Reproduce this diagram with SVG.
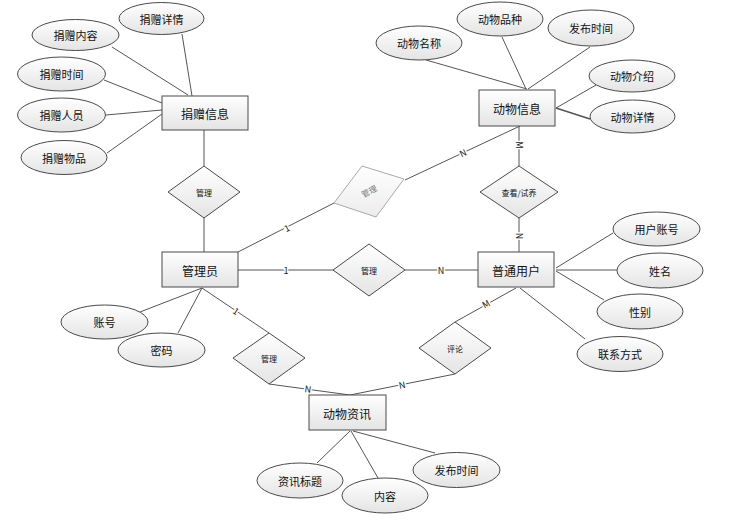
<svg xmlns="http://www.w3.org/2000/svg" width="755" height="522" viewBox="0 0 755 522">
<defs>
<linearGradient id="g" x1="0" y1="0" x2="0" y2="1">
<stop offset="0" stop-color="#ffffff"/>
<stop offset="1" stop-color="#e4e4e4"/>
</linearGradient>
<linearGradient id="g2" x1="0" y1="0" x2="0" y2="1">
<stop offset="0" stop-color="#ffffff"/>
<stop offset="1" stop-color="#ececec"/>
</linearGradient>
</defs>
<style>
.shape{fill:url(#g);stroke:#4a4a4a;stroke-width:1}
.faint{fill:url(#g2);stroke:#aaaaaa;stroke-width:1}
.ln{stroke:#555555;stroke-width:1;fill:none}
text{font-family:"Noto Sans CJK SC","Liberation Sans",sans-serif;text-anchor:middle;dominant-baseline:central;fill:#111}
.ent{font-size:12px}
.att{font-size:11px}
.rel{font-size:8px}
.card{font-size:9px;fill:#111;stroke:#fff;stroke-width:3;paint-order:stroke}
</style>
<rect width="755" height="522" fill="#ffffff"/>
<g id="connectors">
<line class="ln" x1="112" y1="47" x2="188" y2="95"/>
<line class="ln" x1="182" y1="34" x2="192" y2="96"/>
<line class="ln" x1="104" y1="80" x2="162" y2="103"/>
<line class="ln" x1="106" y1="115" x2="162" y2="110"/>
<line class="ln" x1="107" y1="153" x2="162" y2="114"/>
<line class="ln" x1="204" y1="130" x2="204" y2="166"/>
<line class="ln" x1="204" y1="218" x2="204" y2="252"/>
<line class="ln" x1="426" y1="60" x2="527" y2="89"/>
<line class="ln" x1="502" y1="37" x2="526" y2="89"/>
<line class="ln" x1="590" y1="47" x2="528" y2="89"/>
<line class="ln" x1="596" y1="85" x2="556" y2="108"/>
<line class="ln" x1="590" y1="119" x2="556" y2="108" style="stroke-width:1.6"/>
<line class="ln" x1="519" y1="126" x2="519" y2="166"/>
<line class="ln" x1="405" y1="180" x2="520" y2="126"/>
<line class="ln" x1="238" y1="252" x2="334" y2="203"/>
<line class="ln" x1="238" y1="270" x2="334" y2="270"/>
<line class="ln" x1="405" y1="270" x2="478" y2="270"/>
<line class="ln" x1="519" y1="218" x2="519" y2="252"/>
<line class="ln" x1="556" y1="268" x2="613" y2="233"/>
<line class="ln" x1="556" y1="270" x2="617" y2="270"/>
<line class="ln" x1="556" y1="271" x2="604" y2="300"/>
<line class="ln" x1="520" y1="288" x2="585" y2="339"/>
<line class="ln" x1="516" y1="288" x2="455" y2="322"/>
<line class="ln" x1="455" y1="374" x2="350" y2="395"/>
<line class="ln" x1="202" y1="288" x2="140" y2="312"/>
<line class="ln" x1="202" y1="288" x2="178" y2="333"/>
<line class="ln" x1="202" y1="288" x2="269" y2="333"/>
<line class="ln" x1="269" y1="384" x2="350" y2="395"/>
<line class="ln" x1="350" y1="431" x2="317" y2="463"/>
<line class="ln" x1="351" y1="431" x2="378" y2="478"/>
<line class="ln" x1="353" y1="431" x2="435" y2="453"/>
<text class="card" transform="translate(519,145) rotate(90)">M</text>
<text class="card" transform="translate(463,153) rotate(-25)">N</text>
<text class="card" transform="translate(287,228) rotate(-27)">1</text>
<text class="card" x="286" y="270">1</text>
<text class="card" x="441" y="270">N</text>
<text class="card" transform="translate(519,236) rotate(90)">N</text>
<text class="card" transform="translate(486,304) rotate(-29)">M</text>
<text class="card" transform="translate(402,385) rotate(-11)">N</text>
<text class="card" transform="translate(236,311) rotate(34)">1</text>
<text class="card" transform="translate(308,389) rotate(8)">N</text>
</g>
<g id="e-donation"><rect class="shape" x="162" y="96" width="86" height="34"/><text class="ent" x="205" y="113">捐赠信息</text></g>
<g id="e-animal"><rect class="shape" x="479" y="90" width="76" height="36"/><text class="ent" x="517" y="108">动物信息</text></g>
<g id="e-admin"><rect class="shape" x="162" y="252" width="76" height="35"/><text class="ent" x="200" y="270">管理员</text></g>
<g id="e-user"><rect class="shape" x="478" y="252" width="76" height="35"/><text class="ent" x="516" y="270">普通用户</text></g>
<g id="e-news"><rect class="shape" x="309" y="395" width="77" height="35"/><text class="ent" x="347" y="413">动物资讯</text></g>
<g id="r-manage1"><polygon class="shape" points="204,166 240,192 204,218 168,192"/><text class="rel" x="204" y="192">管理</text></g>
<g id="r-manage2"><polygon class="faint" points="334,203 362,166 404,179 376,217"/><text class="rel" style="fill:#777" transform="translate(369,191) rotate(-28)">管理</text></g>
<g id="r-manage3"><polygon class="shape" points="369,244 405,270 369,296 333,270"/><text class="rel" x="369" y="270">管理</text></g>
<g id="r-view"><polygon class="shape" points="519,166 558,192 519,218 480,192"/><text class="rel" x="519" y="192">查看/试养</text></g>
<g id="r-manage4"><polygon class="shape" points="269,333 305,358 269,384 233,358"/><text class="rel" x="269" y="358">管理</text></g>
<g id="r-comment"><polygon class="shape" points="455,322 491,348 455,374 419,348"/><text class="rel" x="455" y="348">评论</text></g>
<g id="a-jzlr"><ellipse class="shape" cx="75.5" cy="35" rx="43.5" ry="15.5"/><text class="att" x="75.5" y="35">捐赠内容</text></g>
<g id="a-jzxq"><ellipse class="shape" cx="161.5" cy="18.5" rx="42.5" ry="16"/><text class="att" x="161.5" y="18.5">捐赠详情</text></g>
<g id="a-jzsj"><ellipse class="shape" cx="61.5" cy="74" rx="44" ry="17"/><text class="att" x="61.5" y="74">捐赠时间</text></g>
<g id="a-jzry"><ellipse class="shape" cx="61.5" cy="115" rx="44" ry="17"/><text class="att" x="61.5" y="115">捐赠人员</text></g>
<g id="a-jzwp"><ellipse class="shape" cx="64" cy="157.5" rx="43" ry="17"/><text class="att" x="64" y="157.5">捐赠物品</text></g>
<g id="a-dwmc"><ellipse class="shape" cx="419" cy="43" rx="43" ry="17"/><text class="att" x="419" y="43">动物名称</text></g>
<g id="a-dwpz"><ellipse class="shape" cx="500" cy="19" rx="43" ry="17"/><text class="att" x="500" y="19">动物品种</text></g>
<g id="a-fbsj1"><ellipse class="shape" cx="591" cy="28" rx="43" ry="18"/><text class="att" x="591" y="28">发布时间</text></g>
<g id="a-dwjs"><ellipse class="shape" cx="632" cy="76" rx="43" ry="16"/><text class="att" x="632" y="76">动物介绍</text></g>
<g id="a-dwxq"><ellipse class="shape" cx="632.5" cy="116.5" rx="42.5" ry="16.5"/><text class="att" x="632.5" y="116.5">动物详情</text></g>
<g id="a-zh"><ellipse class="shape" cx="104.5" cy="322" rx="43.5" ry="17"/><text class="att" x="104.5" y="322">账号</text></g>
<g id="a-mm"><ellipse class="shape" cx="161.5" cy="350" rx="43.5" ry="17"/><text class="att" x="161.5" y="350">密码</text></g>
<g id="a-yhzh"><ellipse class="shape" cx="656.5" cy="229" rx="43.5" ry="17"/><text class="att" x="656.5" y="229">用户账号</text></g>
<g id="a-xm"><ellipse class="shape" cx="660" cy="270.5" rx="43" ry="17.5"/><text class="att" x="660" y="270.5">姓名</text></g>
<g id="a-xb"><ellipse class="shape" cx="640" cy="311.5" rx="43" ry="17.5"/><text class="att" x="640" y="311.5">性别</text></g>
<g id="a-lxfs"><ellipse class="shape" cx="620" cy="354" rx="43" ry="17.5"/><text class="att" x="620" y="354">联系方式</text></g>
<g id="a-zxbt"><ellipse class="shape" cx="300" cy="480.5" rx="43" ry="17.5"/><text class="att" x="300" y="480.5">资讯标题</text></g>
<g id="a-nr"><ellipse class="shape" cx="385" cy="495.5" rx="43" ry="17.5"/><text class="att" x="385" y="495.5">内容</text></g>
<g id="a-fbsj2"><ellipse class="shape" cx="456.5" cy="470" rx="43.5" ry="17.5"/><text class="att" x="456.5" y="470">发布时间</text></g>
</svg>
